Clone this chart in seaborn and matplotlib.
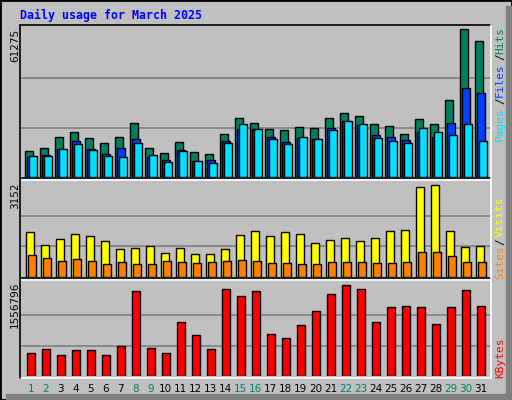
import numpy as np
import pandas as pd
import matplotlib
matplotlib.use("Agg")
import matplotlib.pyplot as plt
import seaborn as sns

sns.set_theme(style="white")
plt.rcParams['font.family'] = ['DejaVu Sans Mono']

days = list(range(1, 32))
weekend_days = [1, 2, 8, 9, 15, 16, 22, 23, 29, 30]

hits = [10770, 12020, 16570, 18650, 16160, 14090, 16570, 22380, 12020, 9940,
        14500, 10360, 9530, 17820, 24450, 22380, 19890, 19480, 20710, 20300,
        24450, 26520, 25280, 21960, 21130, 17820, 24030, 21960, 31900, 61275, 56310]
files = [8290, 9110, 11600, 14910, 11600, 9530, 12020, 15740, 8290, 7040,
         11190, 6630, 7040, 14910, 19890, 19890, 16570, 14500, 16160, 15740,
         20300, 23200, 21540, 17400, 16570, 15330, 18640, 16570, 22370, 36850, 34800]
pages = [8700, 8700, 11600, 13670, 11190, 8700, 8290, 14090, 9110, 6210,
         10770, 6630, 5800, 14090, 21960, 19890, 15740, 13670, 16570, 15740,
         19480, 23200, 21960, 16160, 14910, 14090, 20300, 18640, 17400, 21960, 14910]
visits = [1540, 1100, 1300, 1470, 1400, 1230, 960, 990, 1060, 820,
          990, 790, 790, 960, 1440, 1570, 1400, 1540, 1470, 1160,
          1270, 1340, 1230, 1340, 1570, 1610, 3080, 3152, 1570, 1030, 1060]
sites = [750, 650, 550, 620, 550, 450, 510, 450, 450, 550,
         510, 480, 510, 550, 580, 550, 480, 480, 450, 450,
         510, 510, 510, 480, 480, 510, 860, 860, 720, 510, 510]
kbytes = [397700, 465900, 363600, 448900, 448900, 363600, 517000, 1454600, 483000, 397700,
          926200, 704600, 465900, 1488700, 1369400, 1454600, 721600, 653400, 875000, 1113700,
          1403500, 1556796, 1488700, 926200, 1181900, 1198900, 1181900, 892100, 1181900, 1471600, 1198900]

BG = '#C0C0C0'
W, H = 512, 400
fig = plt.figure(figsize=(W / 100, H / 100), dpi=100, facecolor=BG)

# outer frame with shadow
fig.patches.append(plt.Rectangle((0, 0), 1, 1, transform=fig.transFigure, fill=False,
                                 edgecolor='black', linewidth=2))
fig.patches.append(plt.Rectangle((1 - 6 / W, 0), 5 / W, 1 - 6 / H, transform=fig.transFigure,
                                 color='#808080'))
fig.patches.append(plt.Rectangle((6 / W, 1 / H), 1 - 7 / W, 5 / H, transform=fig.transFigure,
                                 color='#808080'))


def px_axes(x0, y_top, x1, y_bot):
    return fig.add_axes([x0 / W, 1 - y_bot / H, (x1 - x0) / W, (y_bot - y_top) / H])


xlim = (0.283, 0.283 + 471 / 15)
bw = 8 / 15
off = 0.15


def panel(ax, series, maxval, px_max, px_h):
    ax.set_facecolor(BG)
    top = maxval * px_h / px_max
    for yv in (maxval / 3, 2 * maxval / 3):
        ax.axhline(yv, color='#808080', linewidth=1.2, zorder=0)
    n = len(series)
    for i, (vals, col) in enumerate(series):
        shift = (i - (n - 1) / 2) * off
        df = pd.DataFrame({'day': np.array(days) + shift, 'v': vals})
        sns.barplot(data=df, x='day', y='v', native_scale=True, width=bw, color=col,
                    saturation=1, edgecolor='black', linewidth=1, ax=ax, zorder=2 + i)
    ax.set_xlim(*xlim)
    ax.set_ylim(0, top)
    ax.set_xticks([])
    ax.set_yticks([])
    ax.set_xlabel('')
    ax.set_ylabel('')
    for s in ax.spines.values():
        s.set_visible(False)


ax1 = px_axes(20, 25, 491, 177)
panel(ax1, [(hits, '#00805F'), (files, '#0040FF'), (pages, '#00E0FF')], 61275, 148, 152)
ax2 = px_axes(20, 181, 491, 277)
panel(ax2, [(visits, '#FFFF00'), (sites, '#FF8000')], 3152, 92, 96)
ax3 = px_axes(20, 281, 491, 376)
panel(ax3, [(kbytes, '#FF0000')], 1556796, 91.3, 95)

# panel frames
def hline(y, x0, x1, c, lw=1.2):
    fig.add_artist(plt.Line2D([x0 / W, x1 / W], [1 - y / H, 1 - y / H], color=c, linewidth=lw))


def vline(x, y0, y1, c, lw=1.2):
    fig.add_artist(plt.Line2D([x / W, x / W], [1 - y0 / H, 1 - y1 / H], color=c, linewidth=lw))


hline(25, 20, 491, 'black')
for y in (179, 279):
    hline(y - 0.7, 20, 491, 'black')
    hline(y + 0.7, 20, 491, 'white')
hline(378, 20, 491, 'white')
vline(20, 25, 378, 'black')
vline(491, 25, 378, 'white')

fig.text(20 / W, 1 - 15 / H, 'Daily usage for March 2025', color='#0000FF', fontsize=8.4,
         fontweight='bold', ha='left', va='center')

# left scale labels
for txt, y in (('61275', 29), ('3152', 182), ('1556796', 282)):
    fig.text(15 / W, 1 - y / H, txt, rotation=90, fontsize=7.5, ha='center', va='top',
             family='DejaVu Sans', color='black')

# right legend labels
lab = [('Pages', '#00E0FF', 124), ('/', 'black', 101), ('Files', '#0040FF', 80),
       ('/', 'black', 57), ('Hits', '#00805F', 41),
       ('Sites', '#FF8000', 262), ('/', 'black', 242), ('Visits', '#FFFF00', 217),
       ('KBytes', '#FF0000', 358)]
for txt, c, y in lab:
    fig.text(500 / W, 1 - y / H, txt, rotation=90, color=c, fontsize=8,
             ha='center', va='center')

# day labels
for d in days:
    x = 30.75 + 15 * (d - 1)
    fig.text(x / W, 1 - 389 / H, str(d), fontsize=7.5, ha='center', va='center',
             family='DejaVu Sans', color='#00805F' if d in weekend_days else 'black')

fig.savefig('out.png', dpi=100, facecolor=BG)
